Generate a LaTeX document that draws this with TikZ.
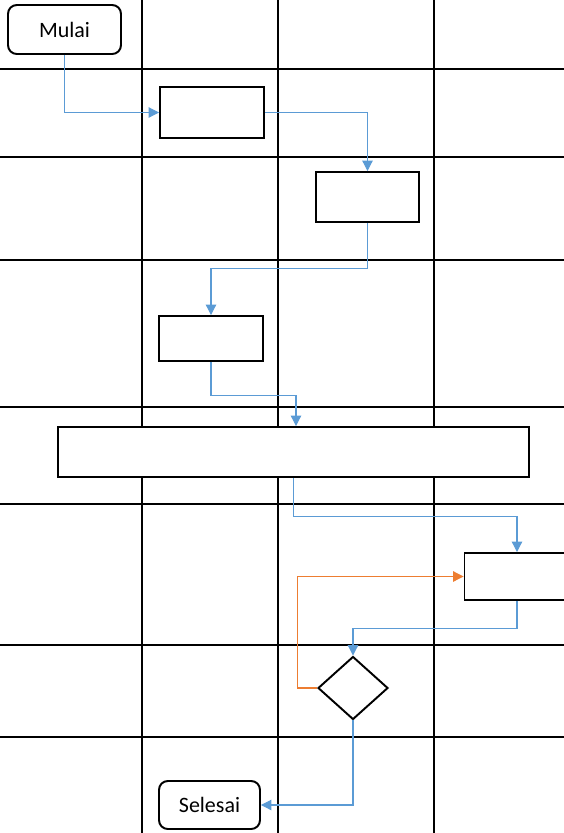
\documentclass[tikz,border=0pt]{standalone}
\usepackage{fontspec}
\setmainfont{Carlito}
\usepackage{xcolor}
\usetikzlibrary{shapes.geometric,arrows.meta,positioning}

\definecolor{flowblue}{HTML}{5B9BD5}
\definecolor{floworange}{HTML}{ED7D31}

\begin{document}
\begin{tikzpicture}[
    x=0.02cm, y=-0.02cm,
    font=\fontsize{12.5}{15}\selectfont,
    term/.style={rectangle, rounded corners=5pt, draw=black, line width=1.1pt, fill=white, align=center},
    proc/.style={rectangle, draw=black, line width=1.1pt, fill=white, inner sep=0pt},
    dec/.style={diamond, draw=black, line width=1.1pt, fill=white, inner sep=0pt, minimum width=1.4cm, minimum height=1.26cm},
    lane/.style={black, line width=1.1pt},
    row/.style={black, line width=0.9pt},
    flow/.style={-{Triangle[length=6pt,width=6pt]}, draw=flowblue, line width=0.6pt},
    back/.style={-{Triangle[length=6pt,width=6pt]}, draw=floworange, line width=0.6pt},
]
\useasboundingbox (0,0) rectangle (564,833);

% Grid
\foreach \yy in {69,157,260,504,645,737}
    \draw[row] (0,\yy) -- (564,\yy);
\draw[lane] (0,407) -- (564,407);
\foreach \xx in {142,278,434}
    \draw[lane] (\xx,0) -- (\xx,833);

% Start
\node[term, minimum width=2.26cm, minimum height=0.98cm] (start) at (64.5,29.5) {Mulai};

% Steps
\node[proc, minimum width=2.08cm, minimum height=1.02cm] (stepA) at (212,112.5) {};
\node[proc, minimum width=2.06cm, minimum height=1.0cm] (stepB) at (367.5,197) {};
\node[proc, minimum width=2.08cm, minimum height=0.9cm] (stepC) at (211,338.5) {};
\node[proc, minimum width=9.42cm, minimum height=1.0cm] (shared) at (293.5,452) {};
\node[proc, minimum width=2.1cm, minimum height=0.94cm] (stepD) at (517,576.5) {};

% Decision
\node[dec] (check) at (353,688) {};

% End
\node[term, minimum width=2.02cm, minimum height=0.96cm] (stop) at (209.5,805) {Selesai};

% Connectors
\draw[flow] (start.south) |- (stepA.west);
\draw[flow] (stepA.east) -| (stepB.north);
\draw[flow] (stepB.south) -- ++(0,46) -| (stepC.north);
\draw[flow] (stepC.south) -- ++(0,34) -| ([xshift=0.05cm]shared.north);
\draw[flow] (shared.south) -- ++(0,39) -| (stepD.north);
\draw[flow] (stepD.south) -- ++(0,28) -| (check.north);
\draw[flow] (check.south) |- (stop.east);
\draw[back] (check.west) -- ++(-20,0) |- (stepD.west);
\end{tikzpicture}
\end{document}
